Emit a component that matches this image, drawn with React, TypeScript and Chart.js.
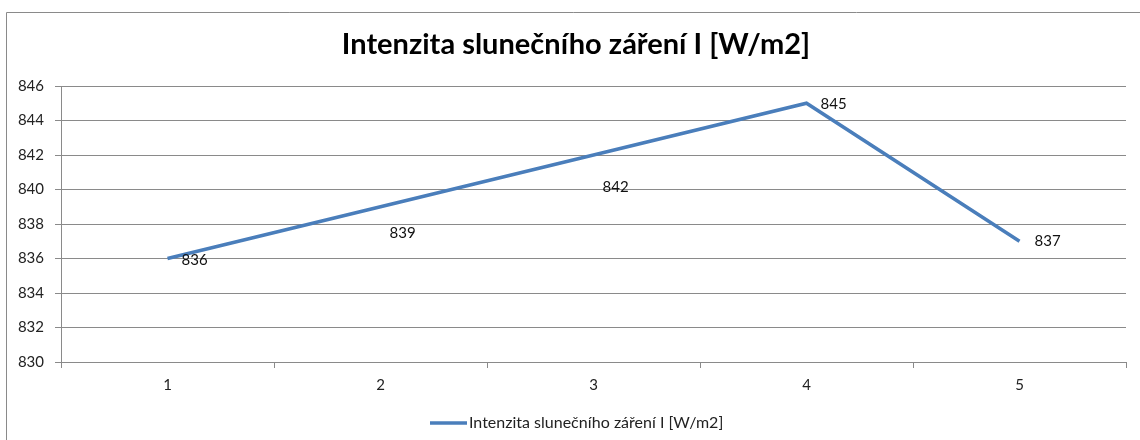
import React, { useEffect, useRef } from "react";
import { Chart, registerables } from "chart.js";

Chart.register(...registerables);

const chartTitle = "Intenzita slunečního záření I [W/m2]";
const seriesName = "Intenzita slunečního záření I [W/m2]";
const categories = ["1", "2", "3", "4", "5"];
const intensity = [836, 839, 842, 845, 837];
const yMin = 830;
const yMax = 846;
const yStep = 2;

// label offsets (style only), in pixels relative to each point
const labelOffsets: [number, number][] = [
  [14, 2],
  [9, 26],
  [9, 32],
  [14, 1],
  [15, 0],
];

const FONT = "Lato, 'Open Sans', sans-serif";
const LINE_COLOR = "#4a7ebb";
const GRID = "#8a8a8a";

const decor = {
  id: "decor",
  beforeDraw(chart: any) {
    const ctx = chart.ctx;
    ctx.save();
    ctx.fillStyle = "#ffffff";
    ctx.fillRect(0, 0, chart.width, chart.height);
    ctx.strokeStyle = "#8a8a8a";
    ctx.lineWidth = 1;
    ctx.beginPath();
    ctx.moveTo(6.5, chart.height);
    ctx.lineTo(6.5, 12.5);
    ctx.lineTo(chart.width, 12.5);
    ctx.stroke();
    // title
    ctx.fillStyle = "#000000";
    ctx.font = `bold 29px ${FONT}`;
    ctx.textAlign = "center";
    ctx.textBaseline = "alphabetic";
    ctx.fillText(chartTitle, 576, 54);
    // legend
    ctx.strokeStyle = LINE_COLOR;
    ctx.lineWidth = 3.5;
    ctx.beginPath();
    ctx.moveTo(430, 423);
    ctx.lineTo(467, 423);
    ctx.stroke();
    ctx.fillStyle = "#222222";
    ctx.font = `16px ${FONT}`;
    ctx.textAlign = "left";
    ctx.textBaseline = "middle";
    ctx.fillText(seriesName, 469, 423);
    ctx.restore();
  },
  afterDatasetsDraw(chart: any) {
    const ctx = chart.ctx;
    const meta = chart.getDatasetMeta(0);
    ctx.save();
    ctx.fillStyle = "#111111";
    ctx.font = `15px ${FONT}`;
    ctx.textAlign = "left";
    ctx.textBaseline = "middle";
    meta.data.forEach((pt: any, i: number) => {
      const [dx, dy] = labelOffsets[i] || [10, 0];
      ctx.fillText(String(intensity[i]), pt.x + dx, pt.y + dy);
    });
    ctx.restore();
  },
};

export default function App() {
  const ref = useRef<HTMLCanvasElement | null>(null);
  useEffect(() => {
    if (!ref.current) return;
    const chart = new Chart(ref.current, {
      type: "line",
      data: {
        labels: categories,
        datasets: [
          {
            label: seriesName,
            data: intensity,
            borderColor: LINE_COLOR,
            backgroundColor: LINE_COLOR,
            borderWidth: 3.5,
            pointRadius: 0,
            tension: 0,
            fill: false,
          },
        ],
      },
      options: {
        responsive: false,
        animation: false,
        devicePixelRatio: 1,
        layout: { padding: { left: 0, top: 86, right: 14, bottom: 0 } },
        plugins: {
          legend: { display: false },
          title: { display: false },
          tooltip: { enabled: false },
        },
        scales: {
          x: {
            type: "category",
            offset: true,
            grid: {
              offset: true,
              drawOnChartArea: false,
              drawTicks: true,
              tickLength: 6,
              color: GRID,
            },
            border: { color: GRID, width: 1 },
            ticks: {
              color: "#222222",
              font: { family: FONT, size: 15 },
              padding: 8,
              maxRotation: 0,
            },
            afterFit: (s: any) => {
              s.height = 78;
            },
          },
          y: {
            min: yMin,
            max: yMax,
            ticks: {
              stepSize: yStep,
              color: "#222222",
              font: { family: FONT, size: 15 },
              padding: 11,
            },
            grid: { color: GRID, tickLength: 6, lineWidth: 1 },
            border: { color: GRID, width: 1 },
            afterFit: (s: any) => {
              s.width = 61;
            },
          },
        },
      },
      plugins: [decor],
    });
    return () => chart.destroy();
  }, []);
  return (
    <div style={{ position: "absolute", left: 0, top: 0, width: 1140, height: 440 }}>
      <canvas ref={ref} width={1140} height={440} style={{ width: 1140, height: 440, display: "block" }} />
    </div>
  );
}
